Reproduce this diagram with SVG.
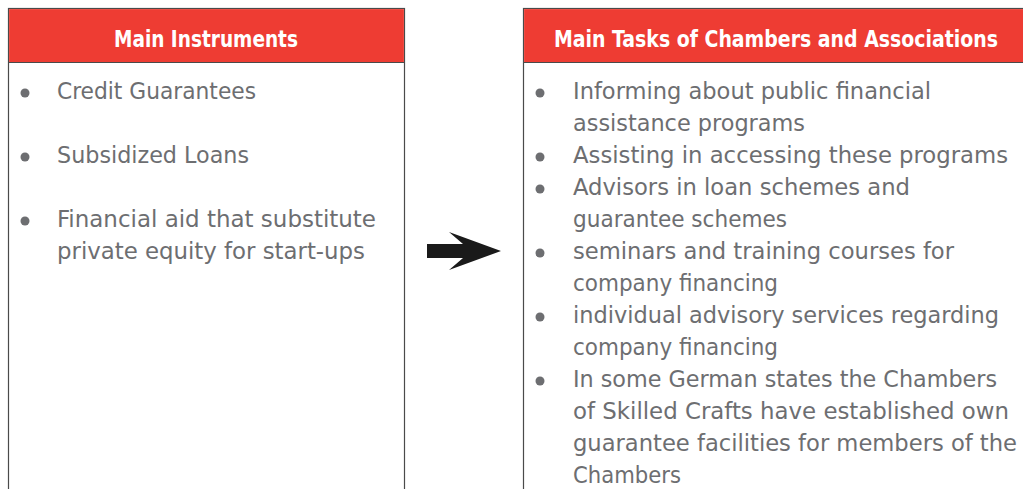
<svg xmlns="http://www.w3.org/2000/svg" width="1023" height="489" viewBox="0 0 1023 489">
<style>
.box{fill:#ffffff;stroke:#4a4a4a;stroke-width:1.2}
.hdr{fill:#ee3c33}
.sep{stroke:#4a4a4a;stroke-width:1.2}
.ht{font-family:"DejaVu Sans Condensed","DejaVu Sans",sans-serif;font-weight:bold;font-size:23.5px;fill:#ffffff}
.t{font-family:"DejaVu Sans Condensed","DejaVu Sans",sans-serif;font-size:23.5px;fill:#6d6e71}
.b{fill:#6d6e71}
</style>
<rect width="1023" height="489" fill="#ffffff"/>
<g id="node-instruments">
<rect class="box" x="8.5" y="8.5" width="396" height="500"/>
<rect class="hdr" x="9.1" y="9.1" width="394.8" height="53"/>
<line class="sep" x1="8.5" y1="62.5" x2="404.5" y2="62.5"/>
<text class="ht" x="114" y="47" textLength="184" lengthAdjust="spacingAndGlyphs">Main Instruments</text>
<circle class="b" cx="25" cy="93" r="4.5"/>
<circle class="b" cx="25" cy="157" r="4.5"/>
<circle class="b" cx="25" cy="221" r="4.5"/>
<text class="t" x="57" y="99" textLength="199" lengthAdjust="spacingAndGlyphs">Credit Guarantees</text>
<text class="t" x="57" y="163" textLength="192" lengthAdjust="spacingAndGlyphs">Subsidized Loans</text>
<text class="t" x="57" y="227" textLength="319" lengthAdjust="spacingAndGlyphs">Financial aid that substitute</text>
<text class="t" x="57" y="259" textLength="308" lengthAdjust="spacingAndGlyphs">private equity for start-ups</text>
</g>
<g id="node-tasks">
<rect class="box" x="523.5" y="8.5" width="520" height="500"/>
<rect class="hdr" x="524.1" y="9.1" width="520" height="53"/>
<line class="sep" x1="523.5" y1="62.5" x2="1023" y2="62.5"/>
<text class="ht" x="554" y="47" textLength="444" lengthAdjust="spacingAndGlyphs">Main Tasks of Chambers and Associations</text>
<circle class="b" cx="540" cy="93" r="4.5"/>
<circle class="b" cx="540" cy="157" r="4.5"/>
<circle class="b" cx="540" cy="189" r="4.5"/>
<circle class="b" cx="540" cy="253" r="4.5"/>
<circle class="b" cx="540" cy="317" r="4.5"/>
<circle class="b" cx="540" cy="381" r="4.5"/>
<text class="t" x="573" y="99" textLength="358" lengthAdjust="spacingAndGlyphs">Informing about public financial</text>
<text class="t" x="573" y="131" textLength="232" lengthAdjust="spacingAndGlyphs">assistance programs</text>
<text class="t" x="573" y="163" textLength="435" lengthAdjust="spacingAndGlyphs">Assisting in accessing these programs</text>
<text class="t" x="573" y="195" textLength="337" lengthAdjust="spacingAndGlyphs">Advisors in loan schemes and</text>
<text class="t" x="573" y="227" textLength="214" lengthAdjust="spacingAndGlyphs">guarantee schemes</text>
<text class="t" x="573" y="259" textLength="381" lengthAdjust="spacingAndGlyphs">seminars and training courses for</text>
<text class="t" x="573" y="291" textLength="205" lengthAdjust="spacingAndGlyphs">company financing</text>
<text class="t" x="573" y="323" textLength="426" lengthAdjust="spacingAndGlyphs">individual advisory services regarding</text>
<text class="t" x="573" y="355" textLength="205" lengthAdjust="spacingAndGlyphs">company financing</text>
<text class="t" x="573" y="387" textLength="424" lengthAdjust="spacingAndGlyphs">In some German states the Chambers</text>
<text class="t" x="573" y="419" textLength="436" lengthAdjust="spacingAndGlyphs">of Skilled Crafts have established own</text>
<text class="t" x="573" y="451" textLength="444" lengthAdjust="spacingAndGlyphs">guarantee facilities for members of the</text>
<text class="t" x="573" y="483" textLength="108" lengthAdjust="spacingAndGlyphs">Chambers</text>
</g>
<g id="connectors">
<polygon points="427,244 463,244 449,232 501,251 449,270 463,258 427,258" fill="#1a1a1a"/>
</g>
</svg>
